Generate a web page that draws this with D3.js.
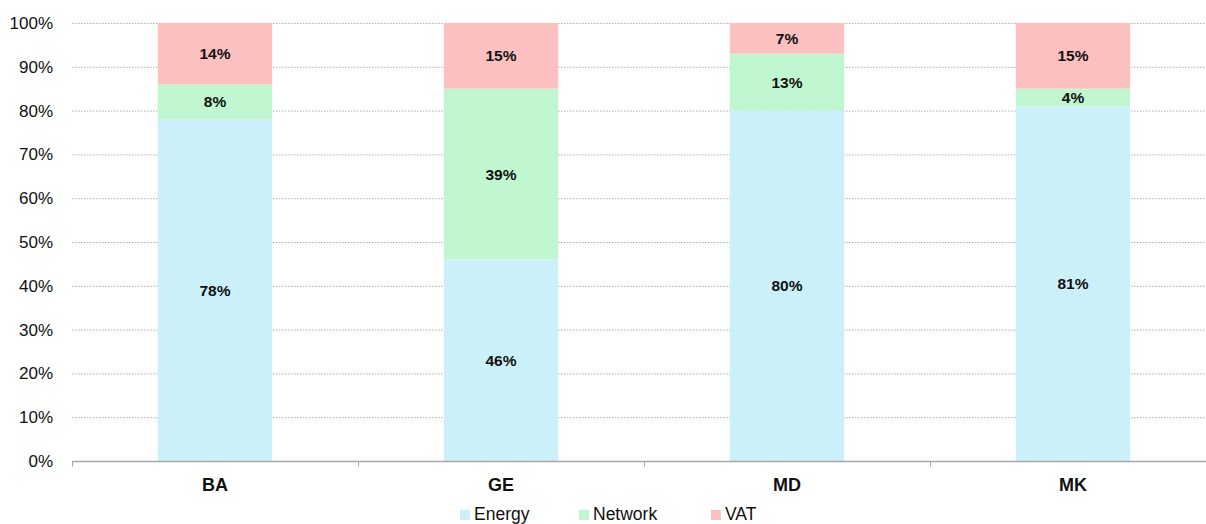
<!DOCTYPE html>
<html>
<head>
<meta charset="utf-8">
<script src="https://cdn.jsdelivr.net/npm/d3@7"></script>
<style>
  body { margin: 0; background: #fff; }
  svg { display: block; font-family: "Liberation Sans", Arial, sans-serif; }
  .grid line { stroke: #b0b0b0; stroke-dasharray: 1.5, 1.5; }
  .tick-label { font-size: 17px; fill: #111; }
  .cat-label { font-size: 18px; font-weight: bold; fill: #111; }
  .bar-label { font-size: 15.5px; font-weight: bold; fill: #111; }
  .legend-label { font-size: 17.5px; fill: #111; }
</style>
</head>
<body>
<div id="chart"></div>
<script>
// data
var countries = ["BA", "GE", "MD", "MK"];
var seriesNames = ["Energy", "Network", "VAT"];
var energy = [78, 46, 80, 81];
var network = [8, 39, 13, 4];
var vat = [14, 15, 7, 15];
var yTicks = [0, 10, 20, 30, 40, 50, 60, 70, 80, 90, 100];
var colors = ["#ccf0fa", "#c1f7d0", "#fcc0c0"];

var w = 1206, h = 524;
var margin = { left: 72, top: 23, bottom: 63 };
var plotRight = 1216; // last category runs past the right edge in the reference

var svg = d3.select('#chart').append('svg')
    .attr('width', w)
    .attr('height', h);

var x = d3.scaleBand().domain(countries).range([margin.left, plotRight]).paddingInner(0.6).paddingOuter(0.3);
var xOuter = d3.scaleBand().domain(countries).range([margin.left, plotRight]);
var y = d3.scaleLinear().domain([0, 100]).range([h - margin.bottom, margin.top]);

// gridlines
svg.append('g').attr('class', 'grid')
    .selectAll('line')
    .data(yTicks.filter(d => d > 0))
    .enter().append('line')
    .attr('x1', margin.left).attr('x2', w)
    .attr('y1', d => y(d) + 0.5).attr('y2', d => y(d) + 0.5);

// y tick labels
svg.append('g')
    .selectAll('text')
    .data(yTicks)
    .enter().append('text')
    .attr('class', 'tick-label')
    .attr('x', 53)
    .attr('y', d => y(d))
    .attr('dy', '0.35em')
    .attr('text-anchor', 'end')
    .text(d => d + '%');

// stacked bars
var table = countries.map((c, i) => ({ country: c, Energy: energy[i], Network: network[i], VAT: vat[i] }));
var stacked = d3.stack().keys(seriesNames)(table);

var layers = svg.append('g').selectAll('g')
    .data(stacked)
    .enter().append('g')
    .attr('fill', (d, i) => colors[i]);

layers.selectAll('rect')
    .data(d => d)
    .enter().append('rect')
    .attr('x', d => x(d.data.country))
    .attr('width', x.bandwidth())
    .attr('y', d => y(d[1]))
    .attr('height', d => y(d[0]) - y(d[1]));

layers.selectAll('text')
    .data(d => d.map(p => ({ p: p, key: d.key })))
    .enter().append('text')
    .attr('class', 'bar-label')
    .attr('x', d => x(d.p.data.country) + x.bandwidth() / 2)
    .attr('y', d => y((d.p[0] + d.p[1]) / 2))
    .attr('dy', '0.35em')
    .attr('text-anchor', 'middle')
    .text(d => d.p.data[d.key] + '%');

// x axis line + ticks
var axisY = y(0) + 0.5;
svg.append('line')
    .attr('x1', margin.left).attr('x2', w)
    .attr('y1', axisY).attr('y2', axisY)
    .attr('stroke', '#a6a6a6').attr('stroke-width', 1.5);

svg.append('g')
    .selectAll('line')
    .data(countries)
    .enter().append('line')
    .attr('x1', d => xOuter(d) + 0.5).attr('x2', d => xOuter(d) + 0.5)
    .attr('y1', axisY).attr('y2', axisY + 5)
    .attr('stroke', '#a6a6a6').attr('stroke-width', 1);

svg.append('g')
    .selectAll('text')
    .data(countries)
    .enter().append('text')
    .attr('class', 'cat-label')
    .attr('x', d => x(d) + x.bandwidth() / 2)
    .attr('y', 485)
    .attr('dy', '0.35em')
    .attr('text-anchor', 'middle')
    .text(d => d);

// legend
var legendX = [460, 579, 711];
var legend = svg.append('g');
seriesNames.forEach(function (name, i) {
    legend.append('rect')
        .attr('x', legendX[i]).attr('y', 510)
        .attr('width', 10).attr('height', 10)
        .attr('fill', colors[i]);
    legend.append('text')
        .attr('class', 'legend-label')
        .attr('x', legendX[i] + 14).attr('y', 514)
        .attr('dy', '0.35em')
        .text(name);
});
</script>
</body>
</html>
